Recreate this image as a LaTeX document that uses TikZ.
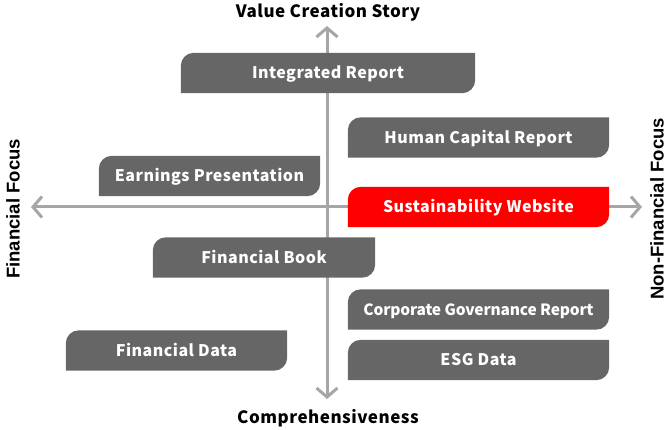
\documentclass[tikz,border=0pt]{standalone}
\usepackage{fontspec}
\setmainfont{Liberation Sans}
\newfontfamily\boxfont[LetterSpace=3]{Noto Sans CJK JP}
\newfontfamily\titlefont[LetterSpace=3]{Noto Sans CJK JP}
\usetikzlibrary{arrows.meta,backgrounds}
\definecolor{boxgray}{HTML}{666666}
\definecolor{boxred}{HTML}{FF0000}
\definecolor{axisgray}{HTML}{A6A6A6}
\tikzset{
  report/.style={inner sep=0pt, minimum height=40pt, text height=12pt, text depth=0pt,
    text=white, font=\boxfont\bfseries\fontsize{16}{16}\selectfont},
  axis/.style={draw=axisgray, line width=3pt,
    {Straight Barb[length=9pt,width=21pt]}-{Straight Barb[length=9pt,width=21pt]}},
  title/.style={font=\titlefont\bfseries\fontsize{17}{17}\selectfont},
  side/.style={font=\bfseries\fontsize{18.5}{18.5}\selectfont, rotate=90}
}
\begin{document}
\begin{tikzpicture}[x=1pt,y=1pt]
\useasboundingbox (0,0) rectangle (670,430);
% axes ends
\coordinate (vtop) at (327,404);
\coordinate (vbot) at (327,31);
\coordinate (hleft) at (31,223);
\coordinate (hright) at (642,223);
% axis titles
\node[title] (story) at (328,418) {Value Creation Story};
\node[title] (comp) at (328,12) {Comprehensiveness};
\node[side] (fin) at (13,221) {Financial Focus};
\node[side] (nonfin) at (657,221) {Non-Financial Focus};
% reports
\node[report, minimum width=294pt] (ir) at (328,357) {Integrated Report};
\node[report, minimum width=261pt] (hc) at (478.5,292.5) {Human Capital Report};
\node[report, minimum width=221pt] (ep) at (209.5,254) {Earnings Presentation};
\node[report, minimum width=261pt] (sw) at (478.5,223) {Sustainability Website};
\node[report, minimum width=222pt] (fb) at (264,172.5) {Financial Book};
\node[report, minimum width=261pt] (cg) at (478.5,120.5) {\addfontfeature{LetterSpace=-1}\fontsize{15.5}{15.5}\selectfont Corporate Governance Report};
\node[report, minimum width=261pt] (esg) at (478.5,70) {ESG Data};
\node[report, minimum width=221pt] (fd) at (176.5,79.5) {Financial Data};
\begin{scope}[on background layer]
  \draw[axis] (vbot) -- (vtop);
  \draw[axis] (hleft) -- (hright);
  \foreach \n/\c in {ir/boxgray,hc/boxgray,ep/boxgray,sw/boxred,fb/boxgray,cg/boxgray,esg/boxgray,fd/boxgray}
    \fill[\c] (\n.south west) -- ([yshift=-13pt]\n.north west) arc[start angle=180,end angle=90,radius=13pt]
      -- (\n.north east) -- ([yshift=13pt]\n.south east) arc[start angle=0,end angle=-90,radius=13pt] -- cycle;
\end{scope}
\end{tikzpicture}
\end{document}
